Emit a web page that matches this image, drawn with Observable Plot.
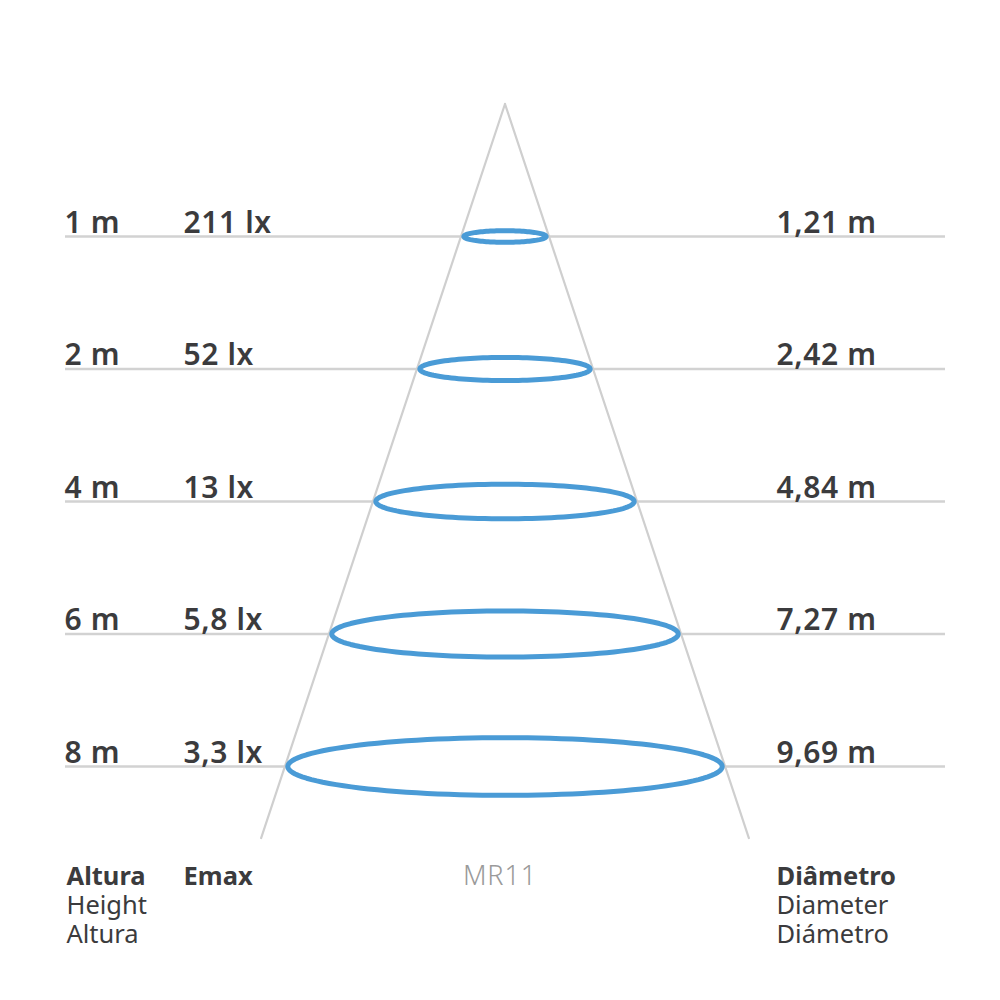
<!DOCTYPE html>
<html><head><meta charset="utf-8">
<script src="https://cdn.jsdelivr.net/npm/d3@7"></script>
<script src="https://cdn.jsdelivr.net/npm/@observablehq/plot@0.6"></script>
<style>html,body{margin:0;padding:0;background:#fff}svg{display:block}
.row-label text{letter-spacing:.6px}
.beam-name text{letter-spacing:.9px}</style>
</head><body><div id="chart"></div>
<script>
const heights = ["1 m","2 m","4 m","6 m","8 m"];
const emax = ["211 lx","52 lx","13 lx","5,8 lx","3,3 lx"];
const diameters = ["1,21 m","2,42 m","4,84 m","7,27 m","9,69 m"];
const beamName = "MR11";
const headerAltura = ["Altura","Height","Altura"];
const headerEmax = ["Emax"];
const headerDiam = ["Diâmetro","Diameter","Diámetro"];

// Rows are evenly spaced steps down the cone; the beam widens by one first-row diameter per step.
const firstDiameter = 1.21;
const ranks = heights.map((_, i) => i + 1);
const table = ranks.map((rank, i) => ({rank, h: heights[i], e: emax[i], d: diameters[i]}));
const coneEnd = 5.54, pxPerRank = 132.5, apexPx = 103.5, pxPerMetre = 71.9, centrePx = 504.5;
const flat = 0.0435, ringInset = 0.04;
const ring = table.flatMap(r => d3.range(0, 120).map(k => {
  const a = k / 120 * 2 * Math.PI;
  return {rank: r.rank,
          x: Math.cos(a) * (r.rank * firstDiameter / 2 * 1.012 - ringInset),
          y: r.rank + Math.sin(a) * r.rank * flat};
}));
const cone = [-1, 1].flatMap(s => [
  {side: s, x: 0, y: 0},
  {side: s, x: s * coneEnd * firstDiameter / 2 * 1.012, y: coneEnd}
]);
const pxX = p => (p - centrePx) / pxPerMetre;
const font = "'Noto Sans', sans-serif";
const ink = "#3b3b3d";
const rowText = (key, px) => Plot.text(table, {
  x: () => pxX(px), y: "rank", text: key, textAnchor: "start", lineAnchor: "bottom",
  dy: -4, fontSize: 30, fontWeight: 600, fill: ink, fontFamily: font, className: "row-label"
});
const head = (lines, px, weight, first = 0) => Plot.text(lines, {
  x: () => pxX(px), y: (_, i) => 5.83 + (i + first) * 0.219, text: d => d, textAnchor: "start",
  fontSize: 25.5, fill: ink, fontFamily: font, fontWeight: weight
});
const plot = Plot.plot({
  width: 1000, height: 1000, margin: 0,
  style: {background: "#fff"},
  x: {axis: null, domain: [pxX(0), pxX(1000)], range: [0, 1000]},
  y: {axis: null, domain: [-apexPx / pxPerRank, (1000 - apexPx) / pxPerRank], range: [0, 1000]},
  marks: [
    Plot.ruleY(table, {y: "rank", x1: () => pxX(65), x2: () => pxX(945), stroke: "#d2d2d2", strokeWidth: 2.4}),
    Plot.line(cone, {x: "x", y: "y", z: "side", stroke: "#cfcfcf", strokeWidth: 2.2}),
    Plot.line(ring, {x: "x", y: "y", z: "rank", curve: "linear-closed", stroke: "#4a9bd6", strokeWidth: 5, fill: "#fff"}),
    rowText("h", 64), rowText("e", 183), rowText("d", 776),
    head(headerAltura.slice(0, 1), 66, 700), head(headerAltura.slice(1), 66, 400, 1),
    head(headerEmax, 183, 700),
    head(headerDiam.slice(0, 1), 776, 700), head(headerDiam.slice(1), 776, 400, 1),
    Plot.text([beamName], {x: () => pxX(499.5), y: () => 5.83, text: d => d, fontSize: 27, fontWeight: 300, fill: "#9a9a9a", fontFamily: font, className: "beam-name"})
  ]
});
document.getElementById("chart").append(plot);
</script></body></html>
